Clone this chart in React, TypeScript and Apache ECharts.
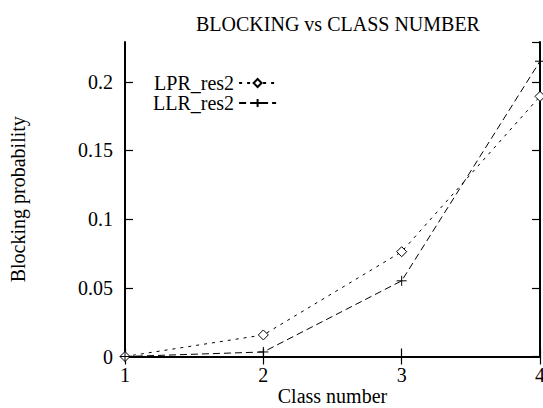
import React, { useEffect, useRef } from "react";
import * as echarts from "echarts";

const classNumbers = [1, 2, 3, 4];
const lprRes2 = [0, 0.0157, 0.0763, 0.1894];
const llrRes2 = [0, 0.0033, 0.0551, 0.215];
const seriesNames = ["LPR_res2", "LLR_res2"];
const titleText = "BLOCKING vs CLASS NUMBER";
const xName = "Class number";
const yName = "Blocking probability";

const FONT = "Liberation Serif";

export default function App() {
  const ref = useRef<HTMLDivElement>(null);
  useEffect(() => {
    if (!ref.current) return;
    const chart = echarts.init(ref.current, undefined, { renderer: "svg" });
    const axisLine = { show: true, lineStyle: { color: "#000", width: 2 } };
    const axisTick = { show: true, inside: true, length: 8, lineStyle: { color: "#000", width: 1.2 } };
    const labelStyle = { color: "#000", fontFamily: FONT, fontSize: 20 };
    chart.setOption({
      animation: false,
      backgroundColor: "#fff",
      title: {
        text: titleText,
        left: 333,
        textAlign: "center",
        top: 9,
        textStyle: { color: "#000", fontFamily: FONT, fontSize: 20, fontWeight: "normal" },
      },
      legend: {
        orient: "vertical",
        left: 148,
        top: 68,
        align: "right",
        itemWidth: 37,
        itemHeight: 10,
        itemGap: 0,
        textStyle: { color: "#000", fontFamily: FONT, fontSize: 20, lineHeight: 18 },
        data: seriesNames,
      },
      grid: {
        left: 125,
        right: 3,
        top: 42,
        bottom: 51.5,
        containLabel: false,
        outerBoundsMode: "none",
      },
      xAxis: [
        {
          type: "value",
          min: 1,
          max: 4,
          interval: 1,
          position: "bottom",
          name: xName,
          nameLocation: "middle",
          nameGap: 29,
          nameMoveOverlap: false,
          nameTextStyle: { ...labelStyle, lineHeight: 20 },
          axisLine,
          axisTick,
          splitLine: { show: false },
          axisLabel: { ...labelStyle, margin: 8, showMaxLabel: true, showMinLabel: true },
        },
        {
          type: "value",
          min: 1,
          max: 4,
          interval: 1,
          position: "top",
          axisLine,
          axisTick,
          splitLine: { show: false },
          axisLabel: { show: false },
        },
      ],
      yAxis: [
        {
          type: "value",
          min: 0,
          max: 0.229,
          interval: 0.05,
          position: "left",
          name: yName,
          nameLocation: "middle",
          nameGap: 97,
          nameRotate: 90,
          nameMoveOverlap: false,
          nameTextStyle: labelStyle,
          axisLine,
          axisTick,
          splitLine: { show: false },
          axisLabel: { ...labelStyle, margin: 12, showMaxLabel: false },
        },
        {
          type: "value",
          min: 0,
          max: 0.229,
          interval: 0.05,
          position: "right",
          axisLine,
          axisTick,
          splitLine: { show: false },
          axisLabel: { show: false },
        },
      ],
      series: [
        {
          type: "line",
          name: seriesNames[0],
          xAxisIndex: 0,
          yAxisIndex: 0,
          data: classNumbers.map((c, i) => [c, lprRes2[i]]),
          symbol: "path://M5,0L10,5L5,10L0,5Z",
          symbolSize: 10,
          clip: false,
          lineStyle: { color: "#000", width: 1, type: [3, 5] },
          itemStyle: { color: "#fff", borderColor: "#000", borderWidth: 1 },
          emphasis: { disabled: true },
        },
        {
          type: "line",
          name: seriesNames[1],
          xAxisIndex: 0,
          yAxisIndex: 0,
          data: classNumbers.map((c, i) => [c, llrRes2[i]]),
          symbol: "path://M0,5L10,5M5,0L5,10",
          symbolSize: 10,
          clip: false,
          lineStyle: { color: "#000", width: 1, type: [7, 4] },
          itemStyle: { color: "#000", borderColor: "#000", borderWidth: 1 },
          emphasis: { disabled: true },
        },
      ],
    });
    return () => chart.dispose();
  }, []);
  return (
    <div
      ref={ref}
      style={{ position: "fixed", left: 0, top: 0, width: 543, height: 408 }}
    />
  );
}
